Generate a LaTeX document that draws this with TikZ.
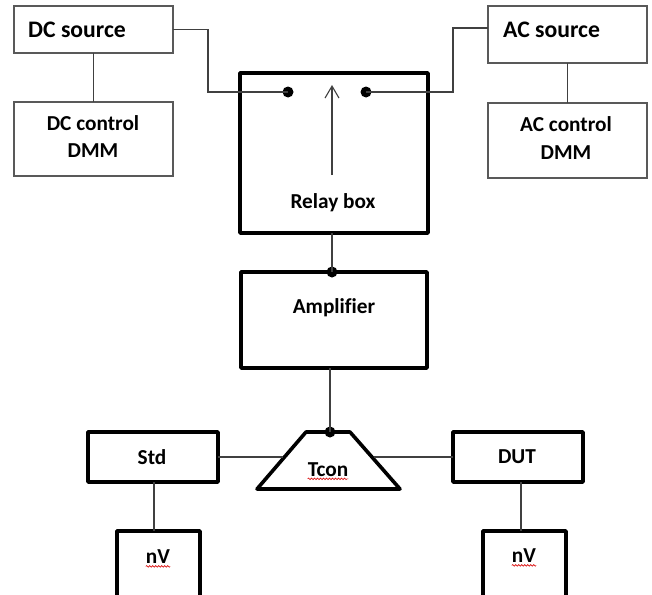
\documentclass[tikz,border=0pt]{standalone}
\usepackage{fontspec}
\setmainfont[Ligatures={NoCommon}]{Carlito}
\usetikzlibrary{arrows.meta,calc,decorations.pathmorphing}
\begin{document}
\begin{tikzpicture}[x=1pt,y=-1pt,
  thinbox/.style={draw=black!65,line width=1.1pt,inner sep=0pt,outer sep=0pt},
  thickbox/.style={draw=black,line width=3.6pt,inner sep=0pt,outer sep=0pt,line join=round},
  wire/.style={draw=black!75,line width=1.1pt},
  bigtxt/.style={inner sep=0pt,font=\fontsize{23.7}{28}\selectfont\bfseries},
  txt/.style={inner sep=0pt,font=\fontsize{21.3}{25}\selectfont\bfseries,align=center},
  junction/.style={circle,fill=black,inner sep=0pt,minimum size=11pt},
  squiggle/.style={draw=red!85!black,line width=0.6pt,decorate,decoration={snake,segment length=3pt,amplitude=0.8pt}}
]
\useasboundingbox (0,0) rectangle (652,594);
\clip (0,0) rectangle (652,594);
\fill[white] (0,0) rectangle (652,594);

% boxes
\node[thinbox,minimum width=159pt,minimum height=47pt] (DCsrc) at (93.5,29.5) {};
\node[thinbox,minimum width=159pt,minimum height=74pt] (DCctl) at (93.5,139) {};
\node[thinbox,minimum width=159pt,minimum height=57pt] (ACsrc) at (567.5,34.5) {};
\node[thinbox,minimum width=159pt,minimum height=75pt] (ACctl) at (567.5,140.5) {};
\node[thickbox,minimum width=188pt,minimum height=160pt] (Relay) at (334,153) {};
\node[thickbox,minimum width=186pt,minimum height=96pt] (Amp) at (334,320) {};
\node[thickbox,minimum width=130pt,minimum height=50pt] (Std) at (153,457) {};
\node[thickbox,minimum width=130pt,minimum height=50pt] (DUT) at (518,457) {};
\node[thickbox,minimum width=83pt,minimum height=69pt] (nVL) at (158.5,565.5) {};
\node[thickbox,minimum width=83pt,minimum height=69pt] (nVR) at (524.5,565.5) {};

% Tcon trapezium
\coordinate (TtL) at (306,432);
\coordinate (TtR) at (350,432);
\coordinate (TbR) at (400,489);
\coordinate (TbL) at (257,489);
\draw[thickbox] (TtL) -- (TtR) -- (TbR) -- (TbL) -- cycle;
\coordinate (TsL) at ($(TtL)!0.47!(TbL)$);
\coordinate (TsR) at ($(TtR)!0.47!(TbR)$);

% texts
\node[bigtxt,anchor=west] (tDCsrc) at (28,29.5) {DC source};
\node[bigtxt,anchor=west] (tACsrc) at (503,30) {AC source};
\node[txt] (tDCctl1) at (93,123.5) {DC control};
\node[txt] (tDCctl2) at (93,150.5) {DMM};
\node[txt] (tACctl1) at (566,124.5) {AC control};
\node[txt] (tACctl2) at (566,152.5) {DMM};
\node[txt] (tRelay) at (333,203) {Relay box};
\node[txt] (tAmp) at (334,308) {Amplifier};
\node[txt] (tStd) at (152,457) {Std};
\node[txt] (tDUT) at (517,457) {DUT};
\node[txt] (tTcon) at (328,469.5) {Tcon};
\node[txt] (tnVL) at (158,557) {nV};
\node[txt] (tnVR) at (524,556) {nV};

% spell-check underlines
\draw[squiggle] ([yshift=-2.5pt]tTcon.base west) -- ([yshift=-2.5pt]tTcon.base east);
\draw[squiggle] ([yshift=-2.5pt]tnVL.base west) -- ([yshift=-2.5pt]tnVL.base east);
\draw[squiggle] ([yshift=-2.5pt]tnVR.base west) -- ([yshift=-2.5pt]tnVR.base east);

% junction dots
\node[junction] (dL) at (288,92) {};
\node[junction] (dR) at (366,92) {};
\node[junction] (dA) at (332,272) {};
\node[junction] (dT) at (330,432) {};

% bend points
\coordinate (bendL) at (208,92);
\coordinate (bendR) at (453,92);
\coordinate (arrowBase) at (332,175);
\coordinate (arrowTip) at (332,85);

% connectors
\draw[wire] (DCsrc.east) -| (bendL) -- (dL.center);
\draw[wire] (dR.center) -- (bendR) |- ([yshift=6.5pt]ACsrc.west);
\draw[wire] (DCsrc.south) -- (DCctl.north);
\draw[wire] (ACsrc.south) -- (ACctl.north);
\draw[wire,-{Straight Barb[length=12pt,width=14pt]}] (arrowBase) -- (arrowTip);
\draw[wire] (Relay.south -| dA) -- (dA.center);
\draw[wire] (Amp.south -| dT) -- (dT.center);
\draw[wire] (Std.east) -- (Std.east -| TsL);
\draw[wire] (DUT.west) -- (DUT.west -| TsR);
\draw[wire] (Std.south -| 154,0) -- (nVL.north -| 154,0);
\draw[wire] (DUT.south -| 521,0) -- (nVR.north -| 521,0);
\end{tikzpicture}
\end{document}
